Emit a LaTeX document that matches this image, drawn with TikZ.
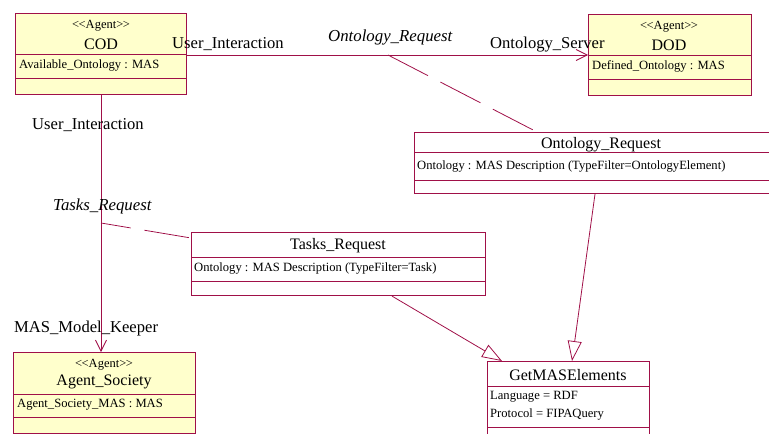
\documentclass[tikz,border=0pt]{standalone}
\usepackage{fontspec}
\setmainfont{Liberation Serif}
\usetikzlibrary{arrows.meta}
\definecolor{umlline}{RGB}{160,16,72}
\definecolor{agentfill}{RGB}{255,255,204}
\newcommand{\stereotype}[1]{\char`<\kern-0.5pt\char`<#1\char`>\kern-0.5pt\char`>}
\tikzset{
  box/.style={draw=umlline, line width=1.1pt, anchor=north west, inner sep=0pt},
  agentbox/.style={box, fill=agentfill},
  classbox/.style={box, fill=white},
  divider/.style={draw=umlline, line width=0.9pt},
  stereo/.style={font=\fontsize{12.5}{12.5}\selectfont, inner sep=0pt},
  title/.style={font=\fontsize{16}{16}\selectfont, inner sep=0pt},
  attr/.style={font=\fontsize{12.6}{12.6}\selectfont, inner sep=0pt, anchor=west},
  rolelabel/.style={font=\fontsize{16.6}{16.6}\selectfont, inner sep=0pt},
  assoclabel/.style={font=\fontsize{16.8}{16.8}\selectfont\itshape, inner sep=0pt},
  assoc/.style={draw=umlline, line width=0.8pt},
  navigable/.style={assoc, -{Straight Barb[length=11pt, width=11pt, line width=0.8pt]}},
  realize/.style={assoc, -{Triangle[open, length=20pt, width=14pt, line width=0.8pt]}},
  linkdash/.style={draw=umlline, line width=0.8pt, dash pattern=on 45pt off 14pt},
}
\begin{document}
\begin{tikzpicture}[x=1pt, y=-1pt]
\useasboundingbox (0,0) rectangle (769,434);
\clip (0,0) rectangle (769,434);

% ---- agents ----
\node[agentbox, minimum width=171pt, minimum height=81pt] (cod) at (15,13) {};
\draw[divider] (15,54) -- (186,54);
\draw[divider] (15,78) -- (186,78);
\node[stereo] (codst) at (101,26) {\stereotype{Agent}};
\node[title] (codt) at (101,44) {COD};
\node[attr] (coda) at (19,65) {Available\_Ontology : MAS};

\node[agentbox, minimum width=163pt, minimum height=81pt] (dod) at (588,14) {};
\draw[divider] (588,55) -- (751,55);
\draw[divider] (588,79) -- (751,79);
\node[stereo] (dodst) at (669,27) {\stereotype{Agent}};
\node[title] (dodt) at (669,45) {DOD};
\node[attr] (doda) at (592,66) {Defined\_Ontology : MAS};

\node[agentbox, minimum width=182pt, minimum height=81pt] (soc) at (13,352) {};
\draw[divider] (13,394) -- (195,394);
\draw[divider] (13,417) -- (195,417);
\node[stereo] (socst) at (104,365) {\stereotype{Agent}};
\node[title] (soct) at (104,382) {Agent\_Society};
\node[attr] (soca) at (17,405) {Agent\_Society\_MAS : MAS};

% ---- association classes ----
\node[classbox, minimum width=374pt, minimum height=61pt] (oreq) at (414,132) {};
\draw[divider] (414,152) -- (788,152);
\draw[divider] (414,180) -- (788,180);
\node[title] (oreqt) at (601,145) {Ontology\_Request};
\node[attr] (oreqa) at (417,166) {Ontology : MAS Description (TypeFilter=OntologyElement)};

\node[classbox, minimum width=294pt, minimum height=63pt] (treq) at (191,232) {};
\draw[divider] (191,257) -- (485,257);
\draw[divider] (191,281) -- (485,281);
\node[title] (treqt) at (338,246) {Tasks\_Request};
\node[attr] (treqa) at (194,268) {Ontology : MAS Description (TypeFilter=Task)};

\node[classbox, minimum width=162pt, minimum height=90pt] (gme) at (487,361) {};
\draw[divider] (487,386) -- (649,386);
\draw[divider] (487,427) -- (649,427);
\node[title] (gmet) at (568,375) {GetMASElements};
\node[attr] (gmea1) at (490,397) {Language = RDF};
\node[attr] (gmea2) at (490,414) {Protocol = FIPAQuery};

% ---- associations ----
\draw[navigable] (cod.east |- 0,55) -- (dod.west |- 0,55);
\draw[navigable] (cod.south -| 101,0) -- (soc.north -| 101,0);

\coordinate (ormid) at (388,55);
\coordinate (trmid) at (101,223);
\draw[linkdash] (ormid) -- (oreq.north -| 537,0);
\draw[linkdash, dash phase=15pt] (trmid) -- (treq.west |- 0,238);

\draw[realize] (oreq.south -| 595,0) -- (gme.north -| 572,0);
\draw[realize] (treq.south -| 392,0) -- (gme.north -| 502,0);

% ---- role and association names ----
\node[rolelabel, anchor=base west] (r1) at (172,48) {User\_Interaction};
\node[assoclabel, anchor=base west] (l1) at (328,41) {Ontology\_Request};
\node[rolelabel, anchor=base west] (r2) at (490,48) {Ontology\_Server};
\node[rolelabel, anchor=base west] (r3) at (32,129) {User\_Interaction};
\node[assoclabel, anchor=base west] (l2) at (53,210) {Tasks\_Request};
\node[rolelabel, anchor=base west] (r4) at (14,332) {MAS\_Model\_Keeper};
\end{tikzpicture}
\end{document}
